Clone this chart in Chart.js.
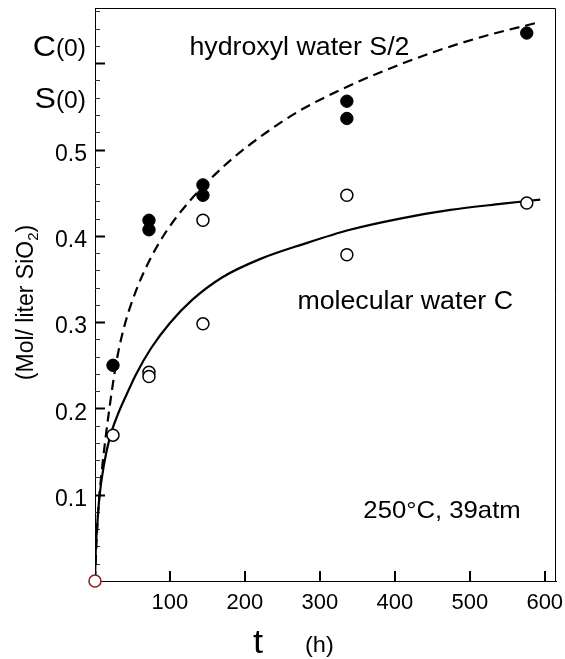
<!DOCTYPE html>
<html>
<head>
<meta charset="utf-8">
<script src="https://cdn.jsdelivr.net/npm/chart.js@4.4.1/dist/chart.umd.min.js"></script>
<style>
  html, body { margin: 0; padding: 0; background: #fff; }
  canvas { display: block; }
</style>
</head>
<body>
<canvas id="chart" width="565" height="659"></canvas>
<script>
// measured points (t in hours)
const hydroxylT = [24, 72, 72, 144, 144, 336, 336, 576];
const hydroxylS = [0.25, 0.418, 0.407, 0.459, 0.447, 0.556, 0.536, 0.635];
const molecularT = [0, 24, 72, 72, 144, 144, 336, 336, 576];
const molecularC = [0, 0.169, 0.242, 0.237, 0.418, 0.298, 0.447, 0.378, 0.438];

// fitted curves
const dashT = [0, 2, 5, 10, 15, 20, 25, 31, 40, 55, 73, 95, 126, 153, 184, 229, 273, 327, 385, 452, 518, 590];
const dashS = [0, 0.045, 0.09, 0.135, 0.172, 0.205, 0.235, 0.265, 0.298, 0.337, 0.372, 0.405, 0.44, 0.465, 0.49, 0.52, 0.545, 0.569, 0.591, 0.613, 0.631, 0.647];
const solidT = [0, 1, 3, 6, 12, 20, 30, 40, 55, 75, 100, 130, 170, 220, 280, 340, 407, 474, 541, 594];
const solidC = [0, 0.035, 0.065, 0.098, 0.135, 0.167, 0.192, 0.212, 0.24, 0.27, 0.299, 0.326, 0.352, 0.373, 0.391, 0.407, 0.42, 0.43, 0.437, 0.442];

// axis
const yLabelValues = [0.1, 0.2, 0.3, 0.4, 0.5];
const levelValues = [0.62, 0.56];
const levelNames = ["C", "S"];

const FONT = "'Liberation Sans', Arial, sans-serif";
const SX = 1.07; // the original lettering is a bit wider than Arial

const pts = (xs, ys) => xs.map((x, i) => ({ x: x, y: ys[i] }));

function putText(ctx, text, x, y, size, align) {
  ctx.save();
  ctx.font = size + "px " + FONT;
  ctx.textAlign = align || "left";
  ctx.textBaseline = "alphabetic";
  ctx.fillStyle = "#000";
  ctx.translate(x, y);
  ctx.scale(SX, 1);
  ctx.fillText(text, 0, 0);
  ctx.restore();
}

function textW(ctx, text, size) {
  ctx.font = size + "px " + FONT;
  return ctx.measureText(text).width * SX;
}

const framePlugin = {
  id: "frame",
  beforeDatasetsDraw(chart) {
    const { ctx, chartArea: a, scales } = chart;
    ctx.save();
    ctx.strokeStyle = "#000";
    ctx.lineWidth = 1;
    ctx.beginPath();
    ctx.moveTo(a.left, a.top + 0.5);
    ctx.lineTo(a.right - 0.5, a.top + 0.5);
    ctx.lineTo(a.right - 0.5, a.bottom);
    ctx.stroke();

    // inward ticks on y
    scales.y.ticks.forEach((t) => {
      const k = Math.round(t.value * 50);
      if (k === 0 || Math.abs(t.value * 50 - k) > 1e-6) return;
      const major = k % 5 === 0;
      const py = Math.round(scales.y.getPixelForValue(t.value)) + 0.5;
      ctx.strokeStyle = major ? "#000" : "#333";
      ctx.lineWidth = major ? 2 : 1;
      ctx.beginPath();
      ctx.moveTo(a.left, py);
      ctx.lineTo(a.left + (major ? 10 : 5), py);
      ctx.stroke();
    });
    // inward ticks on x
    scales.x.ticks.forEach((t) => {
      if (t.value === 0) return;
      const px = Math.round(scales.x.getPixelForValue(t.value));
      ctx.strokeStyle = "#000";
      ctx.lineWidth = 2;
      ctx.beginPath();
      ctx.moveTo(px, a.bottom);
      ctx.lineTo(px, a.bottom - 10);
      ctx.stroke();
    });
    ctx.restore();
  },
  afterDraw(chart) {
    const { ctx, chartArea: a, scales } = chart;
    const x = scales.x, y = scales.y;

    // C(0), S(0) level labels
    levelValues.forEach((v, i) => {
      const py = y.getPixelForValue(v) + 10;
      const right = a.left - 9;
      const w2 = textW(ctx, "(0)", 23);
      putText(ctx, "(0)", right, py, 23, "right");
      putText(ctx, levelNames[i], right - w2, py, 30, "right");
    });

    // curve labels
    putText(ctx, "hydroxyl water S/2", x.getPixelForValue(126), y.getPixelForValue(0.61), 25);
    putText(ctx, "molecular water C", x.getPixelForValue(270), y.getPixelForValue(0.315), 25);
    putText(ctx, "250\u00b0C, 39atm", x.getPixelForValue(358), y.getPixelForValue(0.073), 24);

    // x title
    putText(ctx, "t", 253, 653, 34);
    putText(ctx, "(h)", 305, 652, 22);

    // y title, rotated
    ctx.save();
    ctx.translate(33, (a.top + a.bottom) / 2 + 8);
    ctx.rotate(-Math.PI / 2);
    ctx.fillStyle = "#000";
    ctx.textBaseline = "alphabetic";
    ctx.font = "23px " + FONT;
    const p1 = "(Mol/ liter SiO", p3 = ")";
    const w1 = ctx.measureText(p1).width;
    const w3 = ctx.measureText(p3).width;
    ctx.font = "15px " + FONT;
    const w2 = ctx.measureText("2").width;
    let sx = -(w1 + w2 + w3) / 2;
    ctx.font = "23px " + FONT;
    ctx.fillText(p1, sx, 0);
    ctx.font = "15px " + FONT;
    ctx.fillText("2", sx + w1, 5);
    ctx.font = "23px " + FONT;
    ctx.fillText(p3, sx + w1 + w2, 0);
    ctx.restore();
  },
};

const originColor = "#8b1a1a";

new Chart(document.getElementById("chart"), {
  type: "scatter",
  data: {
    datasets: [
      {
        label: "S/2 measured",
        data: pts(hydroxylT, hydroxylS),
        pointRadius: 6.2,
        pointBackgroundColor: "#000",
        pointBorderColor: "#000",
        pointBorderWidth: 1,
        clip: false,
      },
      {
        label: "C measured",
        data: pts(molecularT, molecularC),
        pointRadius: 6,
        pointBackgroundColor: "#fff",
        pointBorderColor: molecularT.map((t) => (t === 0 ? originColor : "#000")),
        pointBorderWidth: 1.5,
        clip: false,
      },
      {
        label: "hydroxyl water S/2",
        data: pts(dashT, dashS),
        showLine: true,
        borderColor: "#000",
        borderWidth: 2.2,
        borderDash: [10, 6],
        pointRadius: 0,
        cubicInterpolationMode: "monotone",
        fill: false,
      },
      {
        label: "molecular water C",
        data: pts(solidT, solidC),
        showLine: true,
        borderColor: "#000",
        borderWidth: 2.2,
        pointRadius: 0,
        cubicInterpolationMode: "monotone",
        fill: false,
      },
    ],
  },
  options: {
    responsive: false,
    animation: false,
    layout: { padding: { left: 0, right: 9, top: 8, bottom: 0 } },
    plugins: { legend: { display: false }, tooltip: { enabled: false } },
    scales: {
      x: {
        type: "linear",
        min: 0,
        max: 615,
        afterFit: (s) => {
          s.height = 78;
          s.paddingLeft = 0;
          s.paddingRight = 0;
        },
        grid: { display: false, drawTicks: false },
        border: { display: true, color: "#000", width: 1 },
        ticks: {
          stepSize: 100,
          includeBounds: false,
          padding: 9,
          color: "#000",
          font: { family: FONT, size: 22 },
          callback: (v) => (v === 0 ? "" : v),
        },
      },
      y: {
        type: "linear",
        min: 0,
        max: 0.664,
        afterFit: (s) => {
          s.width = 95;
          s.paddingTop = 0;
          s.paddingBottom = 0;
        },
        grid: { display: false, drawTicks: false },
        border: { display: true, color: "#000", width: 1 },
        ticks: {
          stepSize: 0.02,
          includeBounds: false,
          autoSkip: false,
          padding: 8,
          labelOffset: 5,
          color: "#000",
          font: { family: FONT, size: 23 },
          callback: (v) => (yLabelValues.some((lv) => Math.abs(lv - v) < 1e-6) ? v.toFixed(1) : ""),
        },
      },
    },
  },
  plugins: [framePlugin],
});
</script>
</body>
</html>
